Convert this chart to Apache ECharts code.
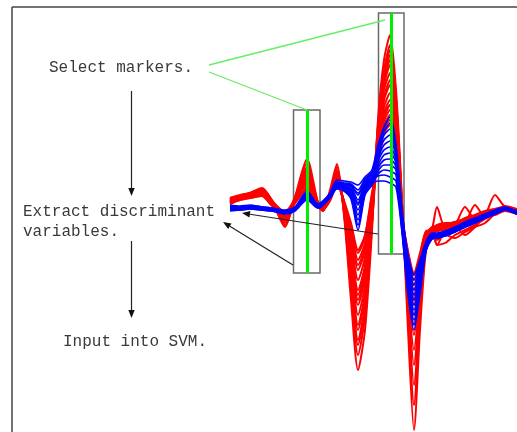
<!DOCTYPE html>
<html>
<head>
<meta charset="utf-8">
<script src="https://cdn.jsdelivr.net/npm/echarts@6/dist/echarts.min.js"></script>
<style>
  html, body { margin: 0; padding: 0; background: #ffffff; }
  #chart { width: 517px; height: 432px; }
</style>
</head>
<body>
<div id="chart"></div>
<script>
// Spectral variable positions shared by every profile
const variableIndex = [0, 10, 20, 32, 42, 55, 65, 77, 88, 93, 100, 107, 114, 121, 128, 135, 142, 148, 154, 160, 166, 172, 178, 184, 190, 196, 202, 207, 215, 225, 235, 245, 255, 265, 275, 287];

// Class 1 profiles (red)
const red01 = [7, 10, 12, 16, 4, -22, 8, 46, 2, -6, 15, 41, -10, -95, -165, -125, -25, 85, 145, 170, 115, 5, -125, -225, -125, -45, -28, -24, -22, -19, -16, -13, -9, -6, -4, -8];
const red02 = [6, 9, 11, 15, 3, -20, 6, 42, 1, -5, 13, 38, -8, -85, -150, -112, -20, 80, 135, 160, 108, 2, -110, -200, -112, -40, -27, -23, -21, -18, -15, -12, -8, -5, -3, -7];
const red03 = [4, 8, 10, 14, 2, -18, 5, 38, 0, -4, 12, 35, -6, -75, -135, -100, -15, 75, 128, 150, 100, 0, -95, -160, -95, -38, -26, -25, -23, -20, -17, -14, -11, -8, -5, -8];
const red04 = [3, 7, 9, 13, 2, -16, 4, 35, -1, -6, 10, 33, -4, -65, -120, -88, -10, 70, 120, 140, 95, -2, -80, -130, -82, -35, -25, -22, -20, -17, -14, -11, -8, -4, -2, -6];
const red05 = [7, 9, 12, 17, 5, -14, 8, 33, 3, -3, 9, 30, -3, -58, -110, -80, -6, 68, 115, 132, 90, -4, -70, -110, -75, -32, -24, -2, -22, -18, -15, -12, -9, -6, -3, -7];
const red06 = [2, 6, 8, 11, 1, -12, 3, 30, 0, -2, 8, 28, -2, -52, -100, -72, -2, 62, 105, 120, 85, -5, -65, -100, -70, -30, -23, -40, -38, -30, -25, -20, -14, -8, -3, -6];
const red07 = [5, 8, 10, 12, 3, -10, 2, 28, 1, -4, 8, 27, 0, -48, -95, -68, 0, 58, 98, 112, 80, -6, -62, -95, -66, -30, -22, -21, -19, -17, -14, -11, -7, -5, -2, -5];
const red08 = [3, 6, 9, 10, 0, -9, 4, 25, -2, -5, 7, 25, 1, -42, -85, -60, 3, 55, 92, 105, 75, -8, -60, -90, -62, -29, -24, -20, -18, -18, -13, -10, -6, -4, -3, -7];
const red09 = [4, 7, 8, 11, 2, -8, 5, 22, 0, -3, 6, 24, 2, -36, -75, -52, 5, 52, 88, 100, 70, -8, -56, -85, -60, -28, -25, -26, -24, -20, -2, -14, -10, -6, -3, -6];
const red10 = [6, 9, 11, 13, 4, -7, 6, 20, 2, -2, 6, 23, 3, -30, -65, -45, 6, 50, 84, 95, 66, -9, -54, -80, -57, -27, -26, -25, -23, -21, -18, 0, -12, -7, -4, -8];
const red11 = [1, 5, 7, 9, -1, -6, 2, 18, -1, -4, 5, 22, 4, -24, -55, -38, 8, 48, 80, 90, 62, -10, -50, -75, -54, -28, -27, -35, -30, -33, -27, -22, -18, -9, -5, -7];
const red12 = [3, 6, 8, 10, 1, -10, 3, 26, 0, -3, 7, 26, 3, -20, -48, -32, 10, 45, 76, 85, 58, -10, -48, -70, -50, -27, -26, -24, -21, -19, -16, -13, -10, 10, -2, -5];
const red13 = [2, 5, 7, 9, 0, -8, 2, 16, -2, -4, 4, 20, 4, -18, -45, -30, 12, 42, 72, 80, 55, -10, -46, -68, -48, -26, -25, -23, -20, -18, -15, -12, -8, -5, -1, -4];
const red14 = [5, 8, 10, 13, 3, -11, 5, 30, 1, -4, 9, 30, -5, -68, -125, -92, -12, 72, 124, 145, 97, -2, -88, -145, -88, -36, -27, -40, -25, -22, -30, -22, -12, -10, -6, -9];
const red15 = [4, 7, 9, 12, 1, -15, 4, 32, 0, -5, 10, 32, -6, -72, -140, -105, -18, 55, 88, 100, 72, -4, -75, -120, -78, -33, -26, -23, -21, -19, -16, -12, -9, -5, -3, -7];
const red16 = [6, 9, 12, 15, 4, -13, 6, 36, 2, -4, 11, 34, -2, -45, -90, -64, 2, 78, 132, 155, 105, 0, -100, -180, -105, -40, -28, -26, -23, -20, -17, -13, -10, -7, -4, -8];
const red17 = [3, 6, 9, 12, 2, -9, 4, 24, 1, -3, 8, 25, 2, -28, -60, -42, 6, 65, 108, 125, 86, -6, -64, -95, -66, -30, -25, -24, -21, -18, -15, -11, -8, -5, -3, -6];

// Class 2 profiles (blue)
const blue01 = [0, -1, 0, -2, -3, -5, -2, 14, 1, 4, 12, 25, 24, 23, 20, 28, 35, 60, 78, 88, 60, -5, -50, -70, -55, -37, -28, -28, -26, -22, -17, -13, -9, -5, -2, -6];
const blue02 = [-1, -2, -1, -2, -3, -6, -3, 12, 0, 3, 11, 23, 22, 21, 15, 26, 33, 57, 74, 82, 57, -7, -54, -75, -58, -38, -29, -29, -27, -23, -18, -14, -10, -6, -3, -7];
const blue03 = [-2, -2, -1, -3, -4, -6, -3, 11, 0, 3, 10, 22, 21, 20, 10, 24, 32, 54, 70, 76, 55, -9, -58, -80, -61, -39, -30, -30, -27, -23, -19, -15, -10, -6, -3, -7];
const blue04 = [-3, -3, -2, -3, -4, -7, -4, 10, -1, 2, 10, 21, 20, 18, 5, 22, 30, 50, 65, 70, 52, -11, -62, -85, -64, -40, -30, -30, -28, -24, -19, -15, -11, -7, -3, -7];
const blue05 = [-3, -3, -2, -4, -5, -7, -4, 9, -1, 2, 9, 20, 19, 16, 0, 20, 28, 47, 60, 64, 50, -13, -66, -90, -67, -41, -31, -31, -28, -24, -20, -16, -11, -7, -4, -8];
const blue06 = [-4, -4, -3, -4, -5, -7, -4, 8, -2, 1, 9, 19, 18, 14, -5, 18, 27, 44, 55, 58, 45, -15, -70, -95, -70, -42, -32, -31, -29, -25, -20, -16, -12, -7, -4, -8];
const blue07 = [-4, -4, -3, -4, -5, -8, -5, 7, -2, 1, 8, 18, 17, 12, -10, 16, 25, 40, 50, 52, 42, -17, -73, -100, -73, -43, -32, -32, -29, -25, -21, -17, -12, -8, -4, -8];
const blue08 = [-5, -4, -3, -5, -6, -8, -5, 6, -2, 1, 8, 17, 16, 10, -15, 14, 24, 37, 45, 46, 38, -19, -76, -105, -76, -44, -33, -32, -30, -26, -21, -17, -12, -8, -4, -8];
const blue09 = [-5, -5, -4, -5, -6, -8, -5, 6, -3, 0, 7, 17, 15, 8, -20, 12, 22, 34, 40, 40, 35, -21, -80, -110, -79, -44, -33, -33, -30, -26, -22, -17, -13, -8, -5, -9];
const blue10 = [-6, -5, -4, -5, -6, -9, -6, 5, -3, 0, 7, 16, 14, 6, -25, 10, 20, 31, 35, 34, 30, -23, -83, -115, -82, -45, -34, -33, -31, -27, -22, -18, -13, -9, -5, -9];
const blue11 = [-2, -3, -2, -3, -4, -6, -3, 10, 0, 2, 9, 21, 20, 19, 12, 22, 26, 29, 30, 28, 24, -25, -86, -120, -85, -45, -33, -32, -30, -26, -21, -17, -12, -8, -4, -8];
const blue12 = [-3, -4, -3, -4, -5, -7, -4, 8, -1, 1, 8, 19, 18, 15, 2, 18, 22, 24, 24, 22, 18, -27, -89, -125, -88, -46, -34, -33, -31, -27, -22, -18, -13, -9, -5, -9];

// Selected marker variables and the windows around them
const markerPositions = [77, 161.5];
const markerWindows = [
  { from: 63.5, to: 90, top: 95, bottom: -68 },
  { from: 148.5, to: 174, top: 192, bottom: -49 }
];

const redProfiles = [red01, red02, red03, red04, red05, red06, red07, red08, red09, red10, red11, red12, red13, red14, red15, red16, red17];
const blueProfiles = [blue01, blue02, blue03, blue04, blue05, blue06, blue07, blue08, blue09, blue10, blue11, blue12];

function toSeries(values, color, width, name) {
  return {
    name: name,
    type: 'line',
    data: values.map((v, i) => [variableIndex[i], v]),
    showSymbol: false,
    smooth: 0.25,
    silent: true,
    animation: false,
    lineStyle: { color: color, width: width },
    z: 2
  };
}

const series = [];
redProfiles.forEach((p, i) => series.push(toSeries(p, '#ff0000', 2, 'class1_' + i)));
blueProfiles.forEach((p, i) => series.push(toSeries(p, '#0000ff', 1.7, 'class2_' + i)));

// Marker windows and selected variables drawn on top of the profiles
series.push({
  name: 'markers',
  type: 'line',
  data: [],
  silent: true,
  animation: false,
  z: 10,
  markArea: {
    silent: true,
    itemStyle: { color: 'rgba(0,0,0,0)', borderColor: '#6a6a6a', borderWidth: 1.5 },
    label: { show: false },
    data: markerWindows.map(w => [{ coord: [w.from, w.top] }, { coord: [w.to, w.bottom] }])
  },
  markLine: {
    silent: true,
    symbol: 'none',
    label: { show: false },
    lineStyle: { color: '#00ee00', width: 3, type: 'solid' },
    data: markerPositions.map((x, i) => [
      { coord: [x, markerWindows[i].top] },
      { coord: [x, markerWindows[i].bottom] }
    ])
  }
});

function arrow(x1, y1, x2, y2) {
  const ang = Math.atan2(y2 - y1, x2 - x1);
  const len = 8, half = 3.2;
  const bx = x2 - len * Math.cos(ang), by = y2 - len * Math.sin(ang);
  const px = -Math.sin(ang) * half, py = Math.cos(ang) * half;
  return [
    { type: 'line', shape: { x1: x1, y1: y1, x2: bx, y2: by }, style: { stroke: '#222', lineWidth: 1.2 }, z: 20 },
    { type: 'polygon', shape: { points: [[x2, y2], [bx + px, by + py], [bx - px, by - py]] }, style: { fill: '#111' }, z: 20 }
  ];
}

const textFont = '16px "Liberation Mono", "DejaVu Sans Mono", monospace';
function label(text, x, y) {
  return { type: 'text', x: x, y: y, style: { text: text, font: textFont, fill: '#3a3a3a', verticalAlign: 'middle' }, z: 20 };
}

const graphic = [
  // frame
  { type: 'line', shape: { x1: 12, y1: 7, x2: 517, y2: 7 }, style: { stroke: '#444', lineWidth: 1.5 }, z: 20 },
  { type: 'line', shape: { x1: 12, y1: 7, x2: 12, y2: 432 }, style: { stroke: '#444', lineWidth: 1.5 }, z: 20 },
  label('Select markers.', 49, 68),
  label('Extract discriminant', 23, 212),
  label('variables.', 23, 232),
  label('Input into SVM.', 63, 342),
  // connectors from the first step to the marker windows
  { type: 'line', shape: { x1: 209, y1: 65, x2: 385, y2: 20 }, style: { stroke: '#66ee66', lineWidth: 1.3 }, z: 20 },
  { type: 'line', shape: { x1: 209, y1: 72, x2: 307, y2: 110 }, style: { stroke: '#66ee66', lineWidth: 1.3 }, z: 20 }
]
  .concat(arrow(131.5, 91, 131.5, 196))
  .concat(arrow(131.5, 241, 131.5, 318))
  .concat(arrow(293, 265, 223, 222))
  .concat(arrow(378, 234, 242, 213));

const chart = echarts.init(document.getElementById('chart'), null, { renderer: 'canvas' });
chart.setOption({
  backgroundColor: '#ffffff',
  animation: false,
  grid: { left: 230, right: 0, top: 0, bottom: 0 },
  xAxis: { type: 'value', min: 0, max: 287, show: false },
  yAxis: { type: 'value', min: -227, max: 205, show: false },
  series: series,
  graphic: graphic
});
</script>
</body>
</html>
